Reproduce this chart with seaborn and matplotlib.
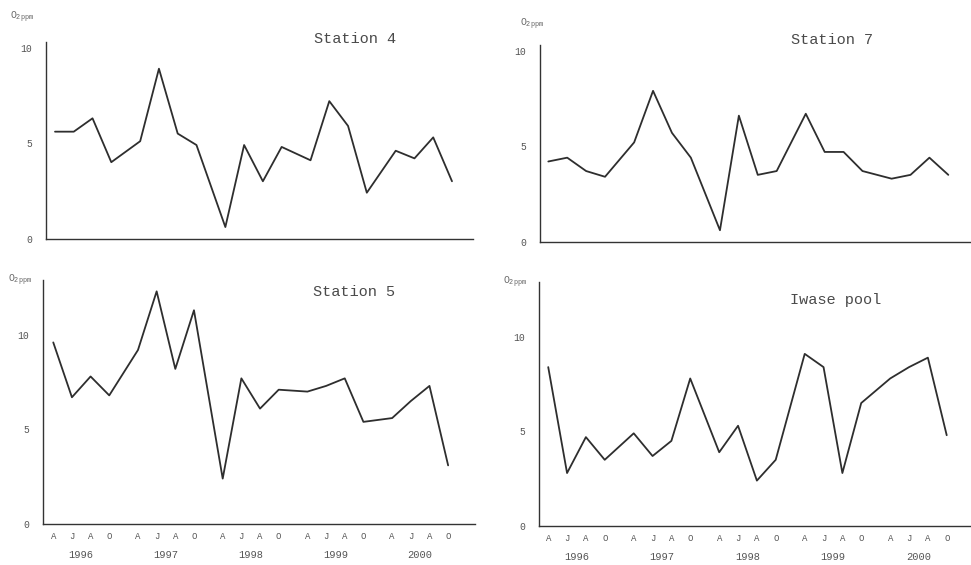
import matplotlib
matplotlib.use("Agg")
import matplotlib.pyplot as plt
import matplotlib.transforms as mtransforms
import seaborn as sns
import pandas as pd

sns.set_style("white")
plt.rcParams['font.family'] = ['Liberation Mono', 'DejaVu Sans Mono']
plt.rcParams['mathtext.fontset'] = 'custom'
plt.rcParams['mathtext.rm'] = 'Liberation Mono'

# ---- data ----
months = ["A", "J", "A", "O"]
years = ["1996", "1997", "1998", "1999", "2000"]
station4 = [5.6, 5.6, 6.3, 4.0, 5.1, 8.9, 5.5, 4.9, 0.6, 4.9, 3.0, 4.8, 4.1, 7.2, 5.9, 2.4, 4.6, 4.2, 5.3, 3.0]
station7 = [4.2, 4.4, 3.7, 3.4, 5.2, 7.9, 5.7, 4.4, 0.6, 6.6, 3.5, 3.7, 6.7, 4.7, 4.7, 3.7, 3.3, 3.5, 4.4, 3.5]
station5 = [9.6, 6.7, 7.8, 6.8, 9.2, 12.3, 8.2, 11.3, 2.4, 7.7, 6.1, 7.1, 7.0, 7.3, 7.7, 5.4, 5.6, 6.5, 7.3, 3.1]
iwase = [8.4, 2.8, 4.7, 3.5, 4.9, 3.7, 4.5, 7.8, 3.9, 5.3, 2.4, 3.5, 9.1, 8.4, 2.8, 6.5, 7.8, 8.4, 8.9, 4.8]
titles = ["Station 4", "Station 7", "Station 5", "Iwase pool"]
ylabel = r"O$_{\mathrm{2ppm}}$"

# categorical positions: 4 samplings per year, with a wider gap between years
GAP = 4.54
pos, mlab = [], []
for yi, yr in enumerate(years):
    for mi, m in enumerate(months):
        pos.append(yi * GAP + mi)
        mlab.append(m)

W, H = 971, 565
fig = plt.figure(figsize=(W / 100, H / 100), dpi=100)
fig.patch.set_facecolor("white")

def px_axes(x0, top, x1, bottom):
    return fig.add_axes([x0 / W, 1 - bottom / H, (x1 - x0) / W, (bottom - top) / H])

TEXT = "#555555"
LINE = "#2e2e2e"

panels = [
    # values, box (x0, top, x1, bottom), xlim, ylim, title (cx, cy), ylabel (x, y), show x labels
    (station4, (46, 42, 473, 238.5), (-0.48, 22.28), (0, 10.3), (355, 39), (10, 17), False),
    (station7, (540, 45, 971, 241.7), (-0.44, 22.36), (0, 10.3), (832, 40), (520, 24), False),
    (station5, (43, 280, 475, 524), (-0.55, 22.6), (0, 12.9), (354, 292), (8, 280), True),
    (iwase, (539, 282, 971, 526), (-0.49, 22.45), (0, 12.9), (836, 300), (503, 282), True),
]

for (vals, box, xl, yl, tpos, ypos, showx), title in zip(panels, titles):
    ax = px_axes(*box)
    df = pd.DataFrame({"pos": pos, "o2": vals})
    sns.lineplot(data=df, x="pos", y="o2", ax=ax, color=LINE, linewidth=1.3)
    ax.set_xlim(*xl)
    ax.set_ylim(*yl)
    ax.set_facecolor("white")
    for s in ["top", "right"]:
        ax.spines[s].set_visible(False)
    for s in ["left", "bottom"]:
        ax.spines[s].set_color("#333333")
        ax.spines[s].set_linewidth(1.0)
    ax.set_xlabel("")
    ax.set_ylabel("")
    ax.set_yticks([0, 5, 10])
    ax.set_yticklabels(["0", "5", "10"], fontsize=7, color=TEXT)
    ax.tick_params(axis="y", length=2, width=0.6, color="#555555", pad=8)
    ax.set_xticks(pos)
    if showx:
        ax.set_xticklabels(mlab, fontsize=6.5, color=TEXT)
        ax.tick_params(axis="x", length=2, width=0.8, color="#444444", direction="inout", pad=5)
        trans = mtransforms.blended_transform_factory(ax.transData, ax.transAxes)
        for yi, yr in enumerate(years):
            ax.text(yi * GAP + 1.5, -0.127, yr, transform=trans, ha="center", va="center",
                    fontsize=7.5, color=TEXT)
    else:
        ax.set_xticklabels([])
        ax.tick_params(axis="x", length=2, width=0.8, color="#444444", direction="inout")
    fig.text(tpos[0] / W, 1 - tpos[1] / H, title, ha="center", va="center",
             fontsize=11, color="#4a4a4a")
    fig.text(ypos[0] / W, 1 - ypos[1] / H, ylabel, ha="left", va="center",
             fontsize=7, color="#666666")

fig.savefig("out.png", dpi=100, facecolor="white")
